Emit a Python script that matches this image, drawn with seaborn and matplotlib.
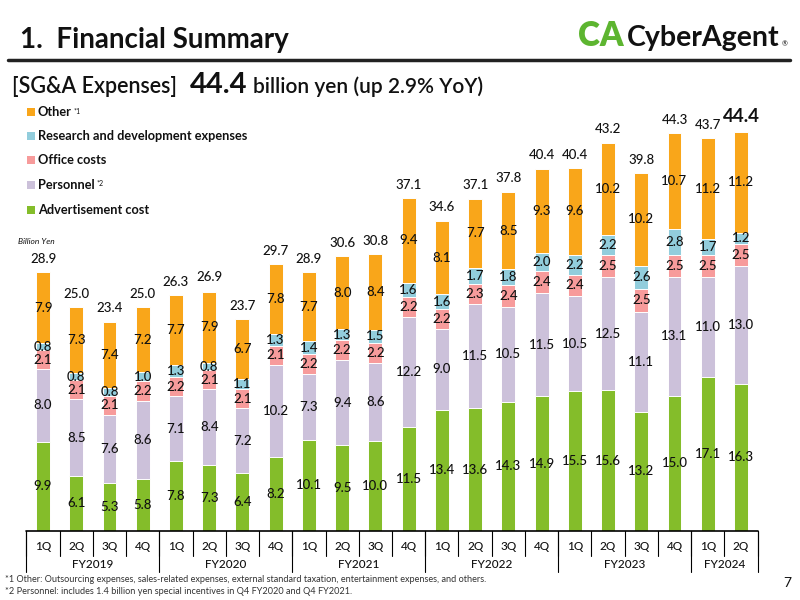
import numpy as np
import pandas as pd
import matplotlib
matplotlib.use("Agg")
import matplotlib.pyplot as plt
import seaborn as sns
from matplotlib.patches import Rectangle
from matplotlib.lines import Line2D
from matplotlib.transforms import blended_transform_factory

# quarterly SG&A expenses, billion yen
quarters = ["1Q", "2Q", "3Q", "4Q"] * 5 + ["1Q", "2Q"]
fiscal_years = ["FY2019", "FY2020", "FY2021", "FY2022", "FY2023", "FY2024"]
fy_sizes = [4, 4, 4, 4, 4, 2]

advertisement = [9.9, 6.1, 5.3, 5.8, 7.8, 7.3, 6.4, 8.2, 10.1, 9.5, 10.0, 11.5,
                 13.4, 13.6, 14.3, 14.9, 15.5, 15.6, 13.2, 15.0, 17.1, 16.3]
personnel = [8.0, 8.5, 7.6, 8.6, 7.1, 8.4, 7.2, 10.2, 7.3, 9.4, 8.6, 12.2,
             9.0, 11.5, 10.5, 11.5, 10.5, 12.5, 11.1, 13.1, 11.0, 13.0]
office = [2.1, 2.1, 2.1, 2.2, 2.2, 2.1, 2.1, 2.1, 2.2, 2.2, 2.2, 2.2,
          2.2, 2.3, 2.4, 2.4, 2.4, 2.5, 2.5, 2.5, 2.5, 2.5]
research = [0.8, 0.8, 0.8, 1.0, 1.3, 0.8, 1.1, 1.3, 1.4, 1.3, 1.5, 1.6,
            1.6, 1.7, 1.8, 2.0, 2.2, 2.2, 2.6, 2.8, 1.7, 1.2]
other = [7.9, 7.3, 7.4, 7.2, 7.7, 7.9, 6.7, 7.8, 7.7, 8.0, 8.4, 9.4,
         8.1, 7.7, 8.5, 9.3, 9.6, 10.2, 10.2, 10.7, 11.2, 11.2]
totals = [28.9, 25.0, 23.4, 25.0, 26.3, 26.9, 23.7, 29.7, 28.9, 30.6, 30.8, 37.1,
          34.6, 37.1, 37.8, 40.4, 40.4, 43.2, 39.8, 44.3, 43.7, 44.4]

series_names = ["Advertisement cost", "Personnel", "Office costs",
                "Research and development expenses", "Other"]
series_values = [advertisement, personnel, office, research, other]
colors = ["#84BD2A", "#CCC1DA", "#F79B9B", "#92CDDC", "#F9A61A"]

sns.set_theme(style="white")
plt.rcParams["font.family"] = ["Lato", "DejaVu Sans"]

# build a tidy table with cumulative heights
period_ids = []
fy_idx = 0
count = 0
for q in quarters:
    period_ids.append(f"{fiscal_years[fy_idx]} {q}")
    count += 1
    if count == fy_sizes[fy_idx]:
        fy_idx += 1
        count = 0

df = pd.DataFrame({"period": period_ids})
cum = np.zeros(len(period_ids))
for name, vals in zip(series_names, series_values):
    df[name] = vals
    df[name + "_bottom"] = cum.copy()
    cum = cum + np.array(vals)
    df[name + "_top"] = cum.copy()

fig = plt.figure(figsize=(8, 6), dpi=100)
ax = fig.add_axes([0.033, 0.115, 0.914, 0.7525])

# draw from the top layer down so each bar overlays the previous
for name, color in reversed(list(zip(series_names, colors))):
    sns.barplot(data=df, x="period", y=name + "_top", order=period_ids,
                color=color, saturation=1, width=0.42, edgecolor="white",
                linewidth=0.7, ax=ax)

ax.set_xlim(-0.5, len(period_ids) - 0.5)
ax.set_ylim(0, 50)
ax.set_xlabel("")
ax.set_ylabel("")
ax.set_xticks([])
ax.set_yticks([])
for s in ax.spines.values():
    s.set_visible(False)
ax.axhline(0, color="black", lw=1.2, clip_on=False)

# segment labels
for i in range(len(period_ids)):
    for name in series_names:
        mid = (df.loc[i, name + "_bottom"] + df.loc[i, name + "_top"]) / 2
        ax.text(i, mid, f"{df.loc[i, name]:.1f}", ha="center", va="center",
                fontsize=9.5, color="#111111", fontweight="medium")
    last = i == len(period_ids) - 1
    ax.text(i, totals[i] + 0.6, f"{totals[i]:.1f}", ha="center", va="bottom",
            fontsize=13.5 if last else 9.5, fontweight="bold" if last else "medium",
            color="#111111")

# category table under the axis
trans = blended_transform_factory(ax.transData, fig.transFigure)
y0 = 1 - 531 / 600
for k in range(len(period_ids) + 1):
    ax.add_line(Line2D([k - 0.5, k - 0.5], [y0, 1 - 556 / 600], transform=trans,
                       color="black", lw=0.8, clip_on=False))
for k, q in enumerate(quarters):
    ax.text(k, 1 - 546 / 600, q, transform=trans, ha="center", va="center",
            fontsize=8.5, color="#111111", fontweight="medium")
start = 0
for fy, n in zip(fiscal_years, fy_sizes):
    ax.add_line(Line2D([start - 0.5, start - 0.5], [y0, 1 - 572 / 600], transform=trans,
                       color="black", lw=0.8, clip_on=False))
    ax.text(start + (n - 1) / 2, 1 - 565 / 600, fy, transform=trans, ha="center",
            va="center", fontsize=8.5, color="#111111", fontweight="medium")
    start += n
ax.add_line(Line2D([start - 0.5, start - 0.5], [y0, 1 - 572 / 600], transform=trans,
                   color="black", lw=0.8, clip_on=False))

# header
fig.text(20 / 800, 1 - 48 / 600, "1.  Financial Summary", fontsize=20,
         fontweight="bold", color="#111111", va="baseline")
fig.add_artist(Line2D([8 / 800, 790 / 800], [1 - 60 / 600, 1 - 60 / 600],
                      color="#222222", lw=2.5))
fig.text(578 / 800, 1 - 46 / 600, "CA", fontsize=24, fontweight="heavy",
         color="#5DB530", va="baseline")
fig.text(627 / 800, 1 - 46 / 600, "CyberAgent", fontsize=20.5, fontweight="bold",
         color="#111111", va="baseline")
fig.text(782 / 800, 1 - 46 / 600, "®", fontsize=5, color="#111111", va="baseline")

fig.text(12 / 800, 1 - 93 / 600, "[SG&A Expenses]", fontsize=15.5, fontweight="semibold",
         color="#111111", va="baseline")
fig.text(190 / 800, 1 - 93 / 600, "44.4", fontsize=21, fontweight="bold",
         color="#111111", va="baseline")
fig.text(253 / 800, 1 - 93 / 600, "billion yen (up 2.9% YoY)", fontsize=15,
         fontweight="semibold", color="#111111", va="baseline")

# legend
legend_rows = [("Other", "*1", colors[4], 112), ("Research and development expenses", "", colors[3], 136),
               ("Office costs", "", colors[2], 160), ("Personnel", "*2", colors[1], 185),
               ("Advertisement cost", "", colors[0], 210)]
for label, note, color, ypx in legend_rows:
    fig.add_artist(Rectangle((27 / 800, 1 - (ypx + 4) / 600), 8 / 800, 8 / 600,
                             facecolor=color, edgecolor="none"))
    t = fig.text(38 / 800, 1 - ypx / 600, label, fontsize=9.2, fontweight="bold",
                 color="#111111", va="center")
    if note:
        fig.canvas.draw()
        bb = t.get_window_extent()
        fig.text((bb.x1 + 2) / 800, 1 - (ypx - 1) / 600, note, fontsize=5,
                 color="#111111", va="center")

fig.text(18 / 800, 1 - 242 / 600, "Billion Yen", fontsize=6, style="italic",
         color="#111111", va="center")

# footnotes
fig.text(5 / 800, 1 - 579 / 600,
         "*1 Other: Outsourcing expenses, sales-related expenses, external standard taxation, "
         "entertainment expenses, and others.", fontsize=6.6, color="#333333", va="center")
fig.text(5 / 800, 1 - 591 / 600,
         "*2 Personnel: includes 1.4 billion yen special incentives in Q4 FY2020 and Q4 FY2021.",
         fontsize=6.6, color="#333333", va="center")
fig.text(783 / 800, 1 - 583 / 600, "7", fontsize=10, color="#111111", va="center")

fig.savefig("out.png", dpi=100)
